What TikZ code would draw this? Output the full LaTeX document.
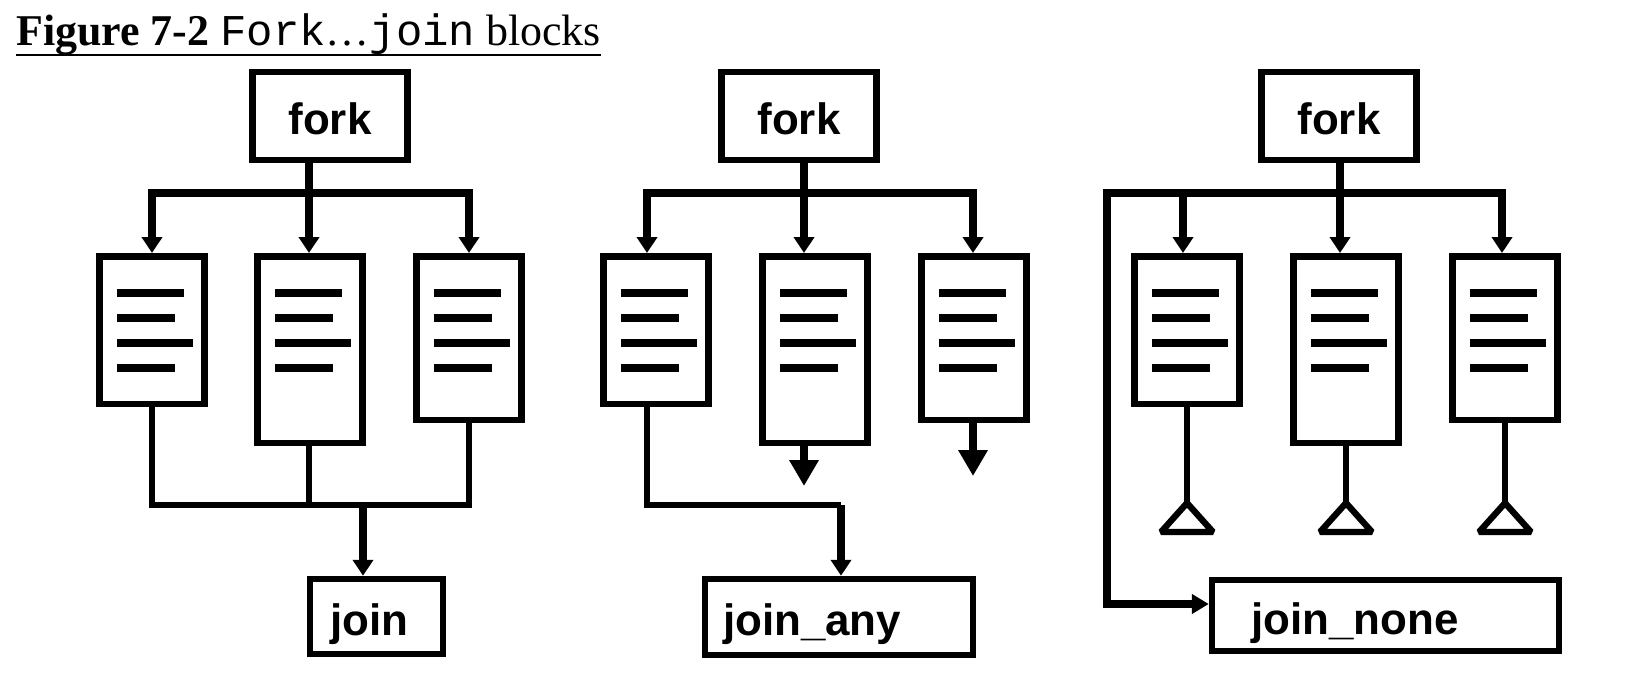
\documentclass[tikz,border=0pt]{standalone}
\usepackage{fontspec}
\setmainfont{Liberation Serif}
\setsansfont{Liberation Sans}
\setmonofont{Liberation Mono}
\usetikzlibrary{arrows.meta}

\newcommand{\figtitlefont}{\fontsize{25}{30}\selectfont}
\newcommand{\figlabelfont}{\fontsize{25}{30}\selectfont\sffamily\bfseries}

\tikzset{
	box/.style={draw, line width=3.7pt, inner sep=0pt},
	forkbox/.style={box, minimum width=3.1cm, minimum height=1.76cm, font=\figlabelfont, text height=0.75cm, text depth=0pt},
	taskbox/.style={box, anchor=north, minimum width=2.1cm},
	joinbox/.style={box, font=\figlabelfont, text height=0.75cm, text depth=0pt},
	codeline/.style={line width=4.3pt},
	arr/.style={line width=4.1pt},
	thinline/.style={line width=3.1pt},
	endmark/.style={line width=3.6pt, line join=bevel},
	bigtip/.style={-{Triangle[length=0.52cm,width=0.56cm]}}
}

\begin{document}
\begin{tikzpicture}[x=0.02cm, y=-0.02cm, >={Triangle[length=0.32cm,width=0.4cm]}]

	\useasboundingbox (0,0) rectangle (1652,690);

	% title
	\node[anchor=base west, inner sep=0pt, font=\figtitlefont] (title) at (16,45) {\textbf{Figure 7-2} \texttt{Fork}…\texttt{join} blocks};
	\draw[line width=1.2pt] ([yshift=-0.2cm]title.base west) -- ([yshift=-0.2cm]title.base east);

	% fork boxes
	\node[forkbox] (fork1) at (330,116) {fork};
	\node[forkbox] (fork2) at (799,116) {fork};
	\node[forkbox] (fork3) at (1339,116) {fork};

	% task boxes
	\node[taskbox, minimum height=2.96cm] (t11) at (152,253) {};
	\node[taskbox, minimum height=3.74cm] (t12) at (310,253) {};
	\node[taskbox, minimum height=3.28cm] (t13) at (469,253) {};

	\node[taskbox, minimum height=2.96cm] (t21) at (656,253) {};
	\node[taskbox, minimum height=3.74cm] (t22) at (815,253) {};
	\node[taskbox, minimum height=3.28cm] (t23) at (974,253) {};

	\node[taskbox, minimum height=2.96cm] (t31) at (1187,253) {};
	\node[taskbox, minimum height=3.74cm] (t32) at (1346,253) {};
	\node[taskbox, minimum height=3.28cm] (t33) at (1505,253) {};

	\foreach \t in {t11,t12,t13,t21,t22,t23,t31,t32,t33}
		\foreach \dy/\len in {40/67, 65/58, 90/76, 115/58}
			\draw[codeline] ([shift={(21,\dy)}]\t.north west) -- ++(\len,0);

	% join boxes
	\node[joinbox, inner xsep=0.4cm, minimum height=1.5cm] (join1) at (376.5,616.5) {\makebox[1.86cm][l]{join}};
	\node[joinbox, inner xsep=0.36cm, minimum height=1.52cm] (join2) at (839,617) {\makebox[4.64cm][l]{join\_any}};
	\node[joinbox, inner xsep=0.78cm, minimum height=1.42cm] (join3) at (1385.5,615.5) {\makebox[5.38cm][l]{join\_none}};

	% %%%% fork ... join
	\coordinate (a11) at (152,193);
	\coordinate (a12) at (309,193);
	\coordinate (a13) at (469,193);
	\draw[arr, ->] (fork1.south -| a12) -- (a12 |- t12.north);
	\draw[arr, ->] (a12) -- (a11) -- (a11 |- t11.north);
	\draw[arr, ->] (a12) -- (a13) -- (a13 |- t13.north);

	\coordinate (b11) at (152,505);
	\coordinate (b13) at (469,505);
	\coordinate (c1) at (363,505);
	\draw[thinline] (t11.south) -- (b11) -- (b13) -- (t13.south);
	\draw[thinline] (a12 |- t12.south) -- (a12 |- b11);
	\draw[arr, ->] (c1) -- (c1 |- join1.north);

	% %%%% fork ... join_any
	\coordinate (a21) at (647,193);
	\coordinate (a22) at (804,193);
	\coordinate (a23) at (973,193);
	\draw[arr, ->] (fork2.south -| a22) -- (a22 |- t22.north);
	\draw[arr, ->] (a22) -- (a21) -- (a21 |- t21.north);
	\draw[arr, ->] (a22) -- (a23) -- (a23 |- t23.north);

	\coordinate (b21) at (647,505);
	\coordinate (c2) at (841,505);
	\draw[thinline] (a21 |- t21.south) -- (b21) -- (c2);
	\draw[arr, ->] (c2) -- (c2 |- join2.north);

	\coordinate (o22) at (804,486);
	\coordinate (o23) at (973,476);
	\draw[arr, bigtip] (a22 |- t22.south) -- (o22);
	\draw[arr, bigtip] (a23 |- t23.south) -- (o23);

	% %%%% fork ... join_none
	\coordinate (a30) at (1107,193);
	\coordinate (a31) at (1183,193);
	\coordinate (a32) at (1340,193);
	\coordinate (a33) at (1502,193);
	\draw[arr, ->] (fork3.south -| a32) -- (a32 |- t32.north);
	\draw[arr, ->] (a32) -- (a31) -- (a31 |- t31.north);
	\draw[arr, ->] (a32) -- (a33) -- (a33 |- t33.north);

	\coordinate (b30) at (1107,604);
	\draw[arr, -{Triangle[length=0.34cm,width=0.38cm]}] (a31) -- (a30) -- (b30) -- (b30 -| join3.west);

	\coordinate (e31) at (1187,503);
	\coordinate (e32) at (1346,503);
	\coordinate (e33) at (1505,503);
	\foreach \n in {1,2,3} {
		\draw[thinline] (t3\n.south) -- (e3\n);
		\draw[endmark] (e3\n) -- ++(-26,29) -- ++(52,0) -- cycle;
	}

\end{tikzpicture}
\end{document}
